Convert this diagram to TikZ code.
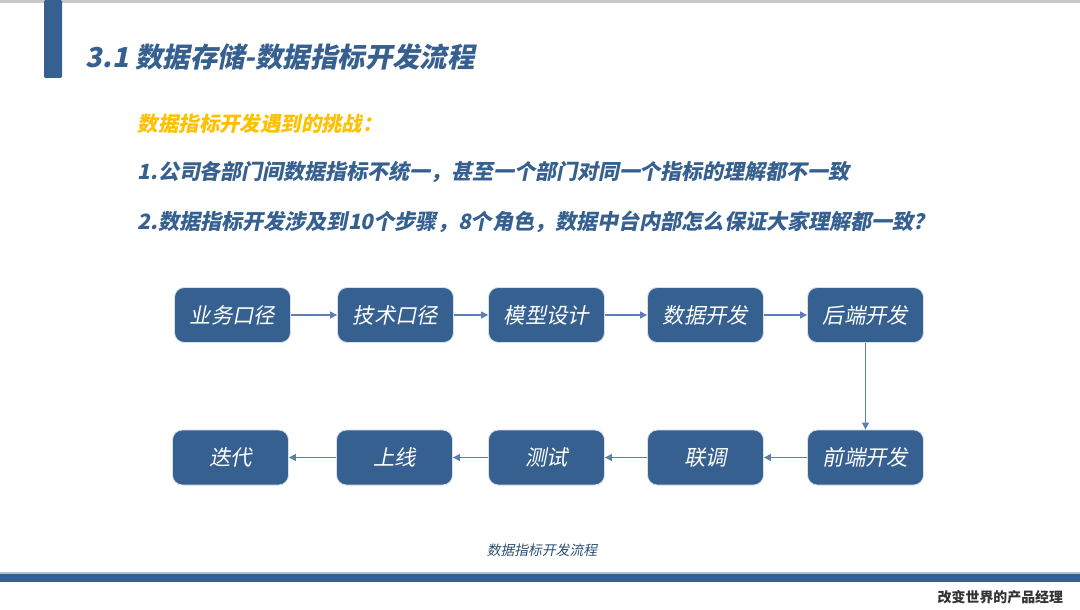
\documentclass[tikz,border=0pt]{standalone}
\usepackage{fontspec}
\setmainfont{Noto Sans CJK SC}
\newfontfamily\slantfont{Noto Sans CJK SC}[FakeSlant=0.2]
\usepackage{tikz}
\usetikzlibrary{arrows.meta,positioning}
\definecolor{slide_blue}{RGB}{54,96,143}
\definecolor{arrow_blue}{RGB}{91,127,176}
\definecolor{warn_gold}{RGB}{255,192,0}
\definecolor{rule_gray}{RGB}{200,200,200}

\tikzset{
  stepbox/.style={fill=slide_blue,draw=white!80!slide_blue,line width=0.6pt,rounded corners=7pt,
    minimum width=116*0.025cm,minimum height=55*0.025cm,inner sep=0pt,
    text=white,font=\fontsize{15.2}{17}\slantfont},
  flow/.style={arrow_blue,line width=0.9pt,-{Triangle[length=5pt,width=5pt]}}
}

\begin{document}
\begin{tikzpicture}[x=0.025cm,y=-0.025cm]
  \useasboundingbox (0,0) rectangle (1080,610);
  % slide frame
  \fill[rule_gray] (0,0) rectangle (1080,3.5);
  \fill[slide_blue,rounded corners=1pt] (44,0) rectangle (62,78);
  \node[anchor=west,text=slide_blue,font=\fontsize{19.5}{22}\slantfont\bfseries] (title) at (81,57) {3.1 数据存储-数据指标开发流程};
  % challenges
  \node[anchor=west,text=warn_gold,font=\fontsize{14.5}{16}\slantfont\bfseries] (ask) at (133,124) {数据指标开发遇到的挑战：};
  \node[anchor=west,text=slide_blue,font=\fontsize{14.9}{16}\slantfont\bfseries] (q1) at (133,172) {1.公司各部门间数据指标不统一，甚至一个部门对同一个指标的理解都不一致};
  \node[anchor=west,text=slide_blue,font=\fontsize{15}{16}\slantfont\bfseries] (q2) at (133,222) {2.数据指标开发涉及到10个步骤，8个角色，数据中台内部怎么保证大家理解都一致？};
  % flow, row 1
  \node[stepbox] (biz) at (232.5,315) {业务口径};
  \node[stepbox] (tech) at (395.5,315) {技术口径};
  \node[stepbox] (model) at (546.5,315) {模型设计};
  \node[stepbox] (data) at (705.5,315) {数据开发};
  \node[stepbox] (back) at (865.5,315) {后端开发};
  % flow, row 2
  \node[stepbox] (front) at (865.5,457.5) {前端开发};
  \node[stepbox] (joint) at (705.5,457.5) {联调};
  \node[stepbox] (test) at (546.5,457.5) {测试};
  \node[stepbox] (online) at (394.5,457.5) {上线};
  \node[stepbox] (iter) at (230.5,457.5) {迭代};
  \draw[flow] (biz) -- (tech);
  \draw[flow] (tech) -- (model);
  \draw[flow] (model) -- (data);
  \draw[flow] (data) -- (back);
  \draw[flow] (back) -- (front);
  \draw[flow] (front) -- (joint);
  \draw[flow] (joint) -- (test);
  \draw[flow] (test) -- (online);
  \draw[flow] (online) -- (iter);
  \node[text=slide_blue!80!black,font=\fontsize{9.8}{11}\slantfont] (cap) at (542,550) {数据指标开发流程};
  % footer
  \fill[slide_blue!40] (0,572) rectangle (1080,574);
  \fill[slide_blue] (0,574) rectangle (1080,582);
  \node[anchor=east,text=black!80,font=\fontsize{9.9}{11}\selectfont\bfseries] (brand) at (1068,597) {改变世界的产品经理};
\end{tikzpicture}
\end{document}
